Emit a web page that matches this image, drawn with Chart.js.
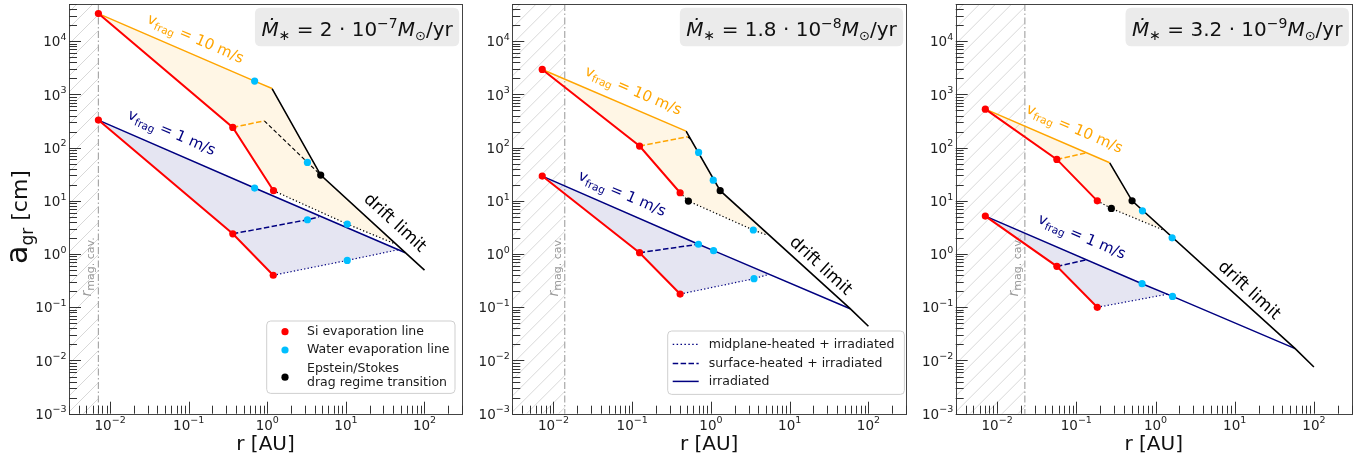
<!DOCTYPE html>
<html><head><meta charset="utf-8">
<script src="https://cdn.jsdelivr.net/npm/chart.js@4.4.1/dist/chart.umd.min.js"></script>
<style>
html,body{margin:0;padding:0;background:#fff;}
#wrap{position:relative;width:1369px;height:464px;overflow:hidden;background:#fff;}
canvas{position:absolute;top:0;}
</style></head><body>
<div id="wrap">
<canvas id="c1" width="466" height="464" style="left:0px"></canvas>
<canvas id="c2" width="444" height="464" style="left:466px"></canvas>
<canvas id="c3" width="459" height="464" style="left:910px"></canvas>
</div>
<script>
// ---- axis ranges and tick labels (decade exponents) ----
const R_MIN = 3e-3, R_MAX = 3e2, A_MIN = 1e-3, A_MAX = 5e4;
const rTickExps = [-2, -1, 0, 1, 2];
const aTickExps = [-3, -2, -1, 0, 1, 2, 3, 4];

// accretion rates shown in the panel headers
const rateMantissa = ['2', '1.8', '3.2'];
const rateExponent = ['7', '8', '9'];

// magnetospheric cavity radius [AU]
const rMagCav = [7.1e-3, 0.0139, 0.0224];

// ---- panel 1: Mdot = 2e-7 ----  points are [r (AU), a_gr (cm)]
const p1Orange   = [[7.1e-3, 3.3e4], [0.69, 1780], [1.15, 1290]];
const p1Drift    = [[1.15, 1290], [4.78, 30.5], [57, 1.06], [100, 0.50]];
const p1SiHigh   = [[7.1e-3, 3.3e4], [0.364, 240], [1.2, 15.5]];
const p1SurfHigh = [[0.364, 240], [0.916, 319]];
const p1SurfHighDrift = [[0.916, 319], [3.24, 52.8], [4.78, 30.5]];
const p1MidHigh  = [[1.2, 15.5], [10.4, 3.66], [42.6, 1.55]];
const p1Navy     = [[7.1e-3, 329], [0.69, 17.4], [57, 1.06]];
const p1SiLow    = [[7.1e-3, 329], [0.364, 2.4], [1.19, 0.40]];
const p1SurfLow  = [[0.364, 2.4], [3.24, 4.41], [4.55, 5.0]];
const p1MidLow   = [[1.19, 0.40], [10.4, 0.76], [46.9, 1.21]];
const p1SiPts    = [[7.1e-3, 3.3e4], [0.364, 240], [1.2, 15.5], [7.1e-3, 329], [0.364, 2.4], [1.19, 0.40]];
const p1WaterPts = [[0.69, 1780], [3.24, 52.8], [10.4, 3.66], [0.69, 17.4], [3.24, 4.41], [10.4, 0.76]];
const p1DragPts  = [[4.78, 30.5]];

// ---- panel 2: Mdot = 1.8e-8 ----
const p2Orange   = [[7.2e-3, 2945], [0.483, 204]];
const p2Drift    = [[0.483, 204], [1.31, 15.5], [58.6, 0.094], [100, 0.0439]];
const p2SiHigh   = [[7.2e-3, 2945], [0.124, 107], [0.406, 14.2]];
const p2SurfHigh = [[0.124, 107], [0.507, 160]];
const p2SurfHighDrift = [[0.507, 160], [0.556, 142]];
const p2MidHigh  = [[0.406, 14.2], [0.517, 9.9], [3.45, 2.83], [5.19, 2.27]];
const p2Navy     = [[7.2e-3, 29.2], [0.694, 1.53], [1.08, 1.16], [58.6, 0.094]];
const p2SiLow    = [[7.2e-3, 29.2], [0.124, 1.06], [0.406, 0.177]];
const p2SurfLow  = [[0.124, 1.06], [0.694, 1.53]];
const p2MidLow   = [[0.406, 0.177], [3.52, 0.344], [5.45, 0.416]];
const p2SiPts    = [[7.2e-3, 2945], [0.124, 107], [0.406, 14.2], [7.2e-3, 29.2], [0.124, 1.06], [0.406, 0.177]];
const p2WaterPts = [[0.697, 81.3], [1.07, 24.5], [3.45, 2.83], [0.694, 1.53], [1.08, 1.16], [3.52, 0.344]];
const p2DragPts  = [[1.31, 15.5], [0.517, 9.9]];

// ---- panel 3: Mdot = 3.2e-9 ----
const p3Orange   = [[7.1e-3, 529], [0.264, 51.9]];
const p3Drift    = [[0.264, 51.9], [0.506, 10.0], [58, 0.0167], [100, 0.00755]];
const p3SiHigh   = [[7.1e-3, 529], [0.0568, 60.1], [0.184, 10.0]];
const p3SurfHigh = [[0.0568, 60.1], [0.134, 80]];
const p3SurfHighDrift = [];
const p3MidHigh  = [[0.184, 10.0], [0.277, 7.2], [1.24, 2.85]];
const p3Navy     = [[7.1e-3, 5.17], [0.676, 0.277], [1.64, 0.160], [58, 0.0167]];
const p3SiLow    = [[7.1e-3, 5.17], [0.0568, 0.587], [0.184, 0.0998]];
const p3SurfLow  = [[0.0568, 0.587], [0.134, 0.78]];
const p3MidLow   = [[0.184, 0.0998], [1.44, 0.177]];
const p3SiPts    = [[7.1e-3, 529], [0.0568, 60.1], [0.184, 10.0], [7.1e-3, 5.17], [0.0568, 0.587], [0.184, 0.0998]];
const p3WaterPts = [[0.684, 6.5], [1.62, 2.02], [0.676, 0.277], [1.64, 0.160]];
const p3DragPts  = [[0.506, 10.0], [0.277, 7.2]];

// ---- colours ----
const C_ORANGE = '#FFA500', C_NAVY = '#000080', C_RED = '#FF0000', C_WATER = '#00BFFF', C_BLACK = '#000000';
const F_ORANGE = 'rgba(255,165,0,0.10)', F_NAVY = 'rgba(0,0,128,0.10)';
const FONT = '"DejaVu Sans", sans-serif';

function fnt(size, italic) { return (italic ? 'italic ' : '') + size + 'px ' + FONT; }
function runsWidth(ctx, runs) {
  let w = 0;
  for (const r of runs) { ctx.font = fnt(r.size, r.italic); w += ctx.measureText(r.t).width; }
  return w;
}
function drawRuns(ctx, runs, x, y) {
  for (const r of runs) {
    ctx.font = fnt(r.size, r.italic);
    ctx.fillText(r.t, x, y + (r.dy || 0));
    x += ctx.measureText(r.t).width;
  }
}
function expLabel(e) {
  return [{ t: '10', size: 13.5 }, { t: e < 0 ? '\u2212' + (-e) : String(e), size: 9.5, dy: -6.5 }];
}
// text centred on (cx, cy), rotated by ang
function drawRotated(ctx, runs, cx, cy, ang, color, mid) {
  ctx.save();
  ctx.translate(cx, cy); ctx.rotate(ang);
  ctx.fillStyle = color; ctx.textBaseline = 'alphabetic';
  const w = runsWidth(ctx, runs);
  drawRuns(ctx, runs, -w / 2, mid);
  ctx.restore();
}
function roundRect(ctx, x, y, w, h, r) {
  ctx.beginPath();
  ctx.moveTo(x + r, y); ctx.lineTo(x + w - r, y); ctx.quadraticCurveTo(x + w, y, x + w, y + r);
  ctx.lineTo(x + w, y + h - r); ctx.quadraticCurveTo(x + w, y + h, x + w - r, y + h);
  ctx.lineTo(x + r, y + h); ctx.quadraticCurveTo(x, y + h, x, y + h - r);
  ctx.lineTo(x, y + r); ctx.quadraticCurveTo(x, y, x + r, y); ctx.closePath();
}

const panelPlugin = {
  id: 'panel',
  beforeDatasetsDraw(chart, args, o) {
    const { ctx, chartArea: ca, scales: { x } } = chart;
    const xm = x.getPixelForValue(o.rMag);
    // hatched magnetospheric cavity
    ctx.save();
    ctx.beginPath(); ctx.rect(ca.left, ca.top, xm - ca.left, ca.bottom - ca.top); ctx.clip();
    ctx.strokeStyle = '#d4d4d4'; ctx.lineWidth = 0.9;
    const h = ca.bottom - ca.top, sp = 16;
    for (let s = ca.left - h - 8; s < xm + sp; s += sp) {
      ctx.beginPath(); ctx.moveTo(s, ca.bottom); ctx.lineTo(s + h, ca.top); ctx.stroke();
    }
    ctx.restore();
    ctx.save();
    ctx.strokeStyle = '#a8a8a8'; ctx.lineWidth = 1.2; ctx.setLineDash([7, 2.5, 1.5, 2.5]);
    ctx.beginPath(); ctx.moveTo(xm, ca.top); ctx.lineTo(xm, ca.bottom); ctx.stroke();
    ctx.restore();
  },
  afterDatasetsDraw(chart, args, o) {
    const { ctx, chartArea: ca, scales: { x, y } } = chart;
    const X = v => x.getPixelForValue(v), Y = v => y.getPixelForValue(v);
    ctx.save();
    // cavity label
    const xm = X(o.rMag);
    ctx.save();
    ctx.translate(xm - 7, Y(0.16)); ctx.rotate(-Math.PI / 2);
    ctx.fillStyle = '#9a9a9a';
    drawRuns(ctx, [{ t: 'r', size: 14, italic: true }, { t: 'mag. cav.', size: 11, dy: 3 }], 0, 0);
    ctx.restore();

    // frame
    ctx.strokeStyle = '#444'; ctx.lineWidth = 1;
    ctx.strokeRect(Math.round(ca.left) + 0.5, Math.round(ca.top) + 0.5, Math.round(ca.right - ca.left), Math.round(ca.bottom - ca.top));
    // inward major/minor ticks
    ctx.strokeStyle = '#333'; ctx.lineWidth = 1;
    ctx.beginPath();
    for (let k = -3; k <= 2; k++) for (let m = 1; m <= 9; m++) {
      const v = m * Math.pow(10, k);
      if (v < R_MIN * 0.999 || v > R_MAX * 1.001) continue;
      const px = Math.round(X(v)) + 0.5, L = m === 1 ? 12 : 8;
      ctx.moveTo(px, ca.bottom); ctx.lineTo(px, ca.bottom - L);
    }
    for (let k = -3; k <= 4; k++) for (let m = 1; m <= 9; m++) {
      const v = m * Math.pow(10, k);
      if (v < A_MIN * 0.999 || v > A_MAX * 1.001) continue;
      const py = Math.round(Y(v)) + 0.5, L = m === 1 ? 12 : 8;
      ctx.moveTo(ca.left, py); ctx.lineTo(ca.left + L, py);
    }
    ctx.stroke();
    // tick labels
    ctx.fillStyle = '#222'; ctx.textBaseline = 'alphabetic';
    for (const e of rTickExps) {
      const runs = expLabel(e), w = runsWidth(ctx, runs);
      drawRuns(ctx, runs, X(Math.pow(10, e)) - w / 2, ca.bottom + 15.8);
    }
    for (const e of aTickExps) {
      const runs = expLabel(e), w = runsWidth(ctx, runs);
      drawRuns(ctx, runs, ca.left - 2.5 - w, Y(Math.pow(10, e)) + 5.2);
    }
    // axis titles
    ctx.fillStyle = '#111';
    ctx.font = fnt(20); ctx.textAlign = 'center';
    ctx.fillText('r [AU]', (ca.left + ca.right) / 2, ca.bottom + 36);
    ctx.textAlign = 'left';
    if (o.yTitle) {
      drawRotated(ctx, [{ t: 'a', size: 30 }, { t: 'gr', size: 17, dy: 6 }, { t: ' [cm]', size: 22 }], 18, 217, -Math.PI / 2, '#111', 9);
    }

    // line annotations, aligned with the lines they label
    const ang = (a, b) => Math.atan2(Y(b[1]) - Y(a[1]), X(b[0]) - X(a[0]));
    const vRuns = (num, col) => [{ t: 'v', size: 15 }, { t: 'frag', size: 10.5, dy: 3.5 }, { t: ' = ' + num + ' m/s', size: 15 }];
    drawRotated(ctx, vRuns('10'), X(o.v10At[0]), Y(o.v10At[1]), ang(o.orange[0], o.orange[o.orange.length - 1]), C_ORANGE, 5);
    drawRotated(ctx, vRuns('1'), X(o.v1At[0]), Y(o.v1At[1]), ang(o.navy[0], o.navy[o.navy.length - 1]), C_NAVY, 5);
    drawRotated(ctx, [{ t: 'drift limit', size: 17 }], X(o.driftAt[0]), Y(o.driftAt[1]), ang(o.drift[1], o.drift[o.drift.length - 1]), C_BLACK, 6);

    // accretion-rate header
    const hr = [
      { t: '\u1E40', size: 20, italic: true }, { t: '\u2217', size: 14, dy: 4 },
      { t: ' = ' + o.mant + ' \u00B7 10', size: 20 }, { t: '\u2212' + o.exp, size: 14, dy: -8 },
      { t: 'M', size: 20, italic: true }, { t: '\u2299', size: 13, dy: 4 }, { t: '/yr', size: 20 }
    ];
    const tw = runsWidth(ctx, hr);
    const bw = tw + 13, bx = ca.right - 2.8 - bw, by = ca.top + 3.7;
    ctx.fillStyle = '#ebebeb'; roundRect(ctx, bx, by, bw, 38.5, 6); ctx.fill();
    ctx.fillStyle = '#111';
    drawRuns(ctx, hr, bx + 6.5, by + 28);

    // legends
    if (o.legend === 'points') {
      const lx = ca.left + 197.7, ly = ca.top + 317, lw = 188.3, lh = 72.4;
      ctx.fillStyle = 'rgba(255,255,255,0.85)'; roundRect(ctx, lx, ly, lw, lh, 4); ctx.fill();
      ctx.strokeStyle = '#cfcfcf'; ctx.lineWidth = 1; ctx.stroke();
      const items = [[C_RED, ['Si evaporation line'], 10.7], [C_WATER, ['Water evaporation line'], 29], [C_BLACK, ['Epstein/Stokes', 'drag regime transition'], 54.7]];
      ctx.textBaseline = 'middle'; ctx.font = fnt(12.5);
      for (const [col, lines, dy] of items) {
        ctx.fillStyle = col; ctx.beginPath(); ctx.arc(lx + 18.3, ly + dy + (lines.length > 1 ? 1.5 : 0), 3.6, 0, 2 * Math.PI); ctx.fill();
        ctx.fillStyle = '#1a1a1a';
        lines.forEach((s, i) => ctx.fillText(s, lx + 40.3, ly + dy + (lines.length > 1 ? (i - 0.5) * 14.5 : 0)));
      }
    } else if (o.legend === 'lines') {
      const lx = ca.right - 238.3, ly = ca.top + 327, lw = 236.7, lh = 63.4;
      ctx.fillStyle = 'rgba(255,255,255,0.85)'; roundRect(ctx, lx, ly, lw, lh, 4); ctx.fill();
      ctx.strokeStyle = '#cfcfcf'; ctx.lineWidth = 1; ctx.stroke();
      const items = [[[1.5, 2.4], 'midplane-heated + irradiated', 13.4], [[5.5, 2.4], 'surface-heated + irradiated', 32.4], [[], 'irradiated', 50.4]];
      ctx.textBaseline = 'middle'; ctx.font = fnt(12.5);
      for (const [dash, s, dy] of items) {
        ctx.strokeStyle = C_NAVY; ctx.lineWidth = dash.length && dash[0] < 2 ? 1.2 : 1.5; ctx.setLineDash(dash);
        ctx.beginPath(); ctx.moveTo(lx + 5, ly + dy); ctx.lineTo(lx + 31, ly + dy); ctx.stroke();
        ctx.setLineDash([]);
        ctx.fillStyle = '#1a1a1a'; ctx.fillText(s, lx + 41, ly + dy);
      }
    }
    ctx.restore();
  }
};

const asPts = a => a.map(([x, y]) => ({ x, y }));
const lineDs = (data, color, width, dash) => ({ data: asPts(data), showLine: true, borderColor: color, borderWidth: width, borderDash: dash || [], pointRadius: 0, fill: false, tension: 0, order: 2 });
const shapeDs = (data, color) => ({ data: asPts(data), showLine: true, borderWidth: 0, borderColor: 'rgba(0,0,0,0)', backgroundColor: color, pointRadius: 0, fill: 'shape', tension: 0, order: 3 });
const markDs = (data, color) => ({ data: asPts(data), showLine: false, pointRadius: 3.6, pointBackgroundColor: color, backgroundColor: color, pointBorderWidth: 0, borderWidth: 0, order: 1 });

function makePanel(canvasId, P) {
  const last = a => a[a.length - 1];
  const midHEnd = last(P.midHigh), midLEnd = last(P.midLow);
  const highFill = [...P.orange,
    ...P.drift.filter(p => p[0] > last(P.orange)[0] && p[0] < midHEnd[0]),
    ...P.midHigh.slice().reverse(), ...P.siHigh.slice().reverse()];
  const lowFill = [...P.navy.filter(p => p[0] < midLEnd[0]),
    ...P.midLow.slice().reverse(), ...P.siLow.slice().reverse()];
  const datasets = [
    markDs(P.siPts, C_RED), markDs(P.waterPts, C_WATER), markDs(P.dragPts, C_BLACK),
    lineDs(P.siHigh, C_RED, 2), lineDs(P.siLow, C_RED, 2),
    lineDs(P.orange, C_ORANGE, 1.5), lineDs(P.drift, C_BLACK, 1.6),
    lineDs(P.surfHigh, C_ORANGE, 1.5, [5.5, 2.4]),
    lineDs(P.surfHighDrift, C_BLACK, 1.2, [4, 2.5]),
    lineDs(P.midHigh, C_BLACK, 1.2, [1.3, 2.2]),
    lineDs(P.navy, C_NAVY, 1.5),
    lineDs(P.surfLow, C_NAVY, 1.5, [5.5, 2.4]),
    lineDs(P.midLow, C_NAVY, 1.2, [1.3, 2.2]),
    shapeDs(highFill, F_ORANGE), shapeDs(lowFill, F_NAVY)
  ];
  return new Chart(document.getElementById(canvasId), {
    type: 'scatter',
    data: { datasets },
    options: {
      responsive: false, animation: false, devicePixelRatio: 1, events: [],
      layout: { padding: { left: 0, right: P.padR, top: 3.3, bottom: 0 } },
      scales: {
        x: { type: 'logarithmic', min: R_MIN, max: R_MAX, grid: { display: false, drawTicks: false }, border: { display: false }, ticks: { display: false }, afterFit(s) { s.height = 50.3; } },
        y: { type: 'logarithmic', min: A_MIN, max: A_MAX, grid: { display: false, drawTicks: false }, border: { display: false }, ticks: { display: false }, afterFit(s) { s.width = P.axisW; } }
      },
      plugins: { legend: { display: false }, tooltip: { enabled: false }, panel: P }
    },
    plugins: [panelPlugin]
  });
}

makePanel('c1', {
  axisW: 69, padR: 3, yTitle: true, legend: 'points', mant: rateMantissa[0], exp: rateExponent[0], rMag: rMagCav[0],
  orange: p1Orange, drift: p1Drift, siHigh: p1SiHigh, surfHigh: p1SurfHigh, surfHighDrift: p1SurfHighDrift, midHigh: p1MidHigh,
  navy: p1Navy, siLow: p1SiLow, surfLow: p1SurfLow, midLow: p1MidLow, siPts: p1SiPts, waterPts: p1WaterPts, dragPts: p1DragPts,
  v10At: [0.123, 1.14e4], v1At: [0.061, 196], driftAt: [43, 4.0]
});
makePanel('c2', {
  axisW: 46.3, padR: 1.7, yTitle: false, legend: 'lines', mant: rateMantissa[1], exp: rateExponent[1], rMag: rMagCav[1],
  orange: p2Orange, drift: p2Drift, siHigh: p2SiHigh, surfHigh: p2SurfHigh, surfHighDrift: p2SurfHighDrift, midHigh: p2MidHigh,
  navy: p2Navy, siLow: p2SiLow, surfLow: p2SurfLow, midLow: p2MidLow, siPts: p2SiPts, waterPts: p2WaterPts, dragPts: p2DragPts,
  v10At: [0.104, 1200], v1At: [0.0748, 14.0], driftAt: [25.4, 0.62]
});
makePanel('c3', {
  axisW: 45.7, padR: 17.3, yTitle: false, legend: null, mant: rateMantissa[2], exp: rateExponent[2], rMag: rMagCav[2],
  orange: p3Orange, drift: p3Drift, siHigh: p3SiHigh, surfHigh: p3SurfHigh, surfHighDrift: p3SurfHighDrift, midHigh: p3MidHigh,
  navy: p3Navy, siLow: p3SiLow, surfLow: p3SurfLow, midLow: p3MidLow, siPts: p3SiPts, waterPts: p3WaterPts, dragPts: p3DragPts,
  v10At: [0.0952, 233], v1At: [0.118, 2.18], driftAt: [15.6, 0.215]
});
</script>
</body></html>
